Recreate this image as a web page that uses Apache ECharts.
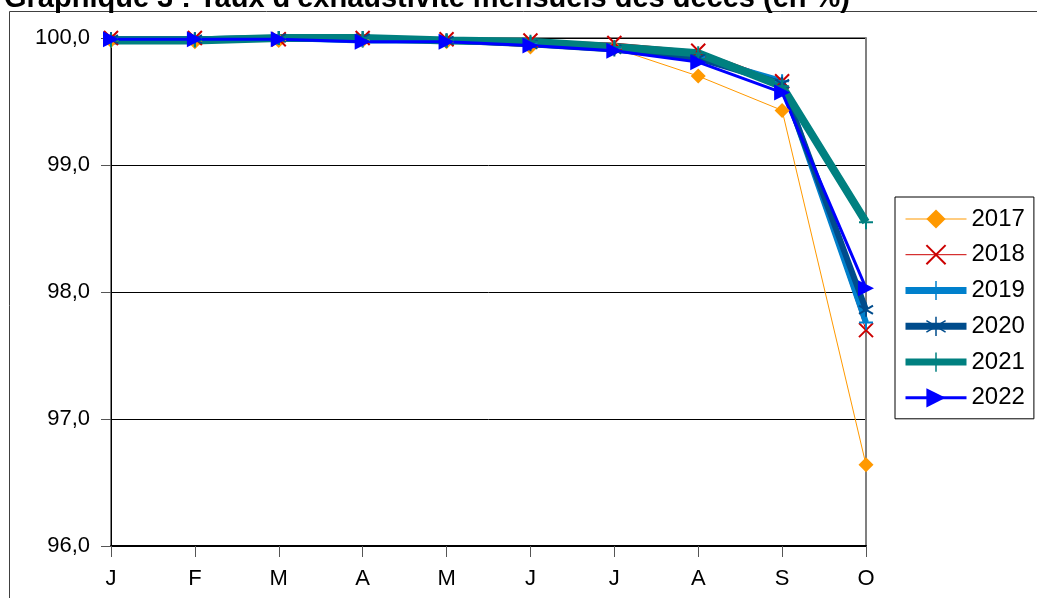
<!DOCTYPE html>
<html><head><meta charset="utf-8">
<script src="https://cdn.jsdelivr.net/npm/echarts@6/dist/echarts.min.js"></script>
<style>html,body{margin:0;padding:0;background:#fff}#c{width:1037px;height:598px}</style>
</head><body><div id="c"></div>
<script>
var months = ['J','F','M','A','M','J','J','A','S','O'];
var yTicks = [96, 97, 98, 99, 100];
var y2017 = [99.98, 99.97, 99.98, 99.98, 99.97, 99.93, 99.92, 99.70, 99.43, 96.64];
var y2018 = [100.0, 100.0, 99.99, 100.0, 99.99, 99.98, 99.96, 99.90, 99.66, 97.70];
var y2019 = [99.99, 99.99, 100.0, 99.98, 99.98, 99.96, 99.92, 99.85, 99.66, 97.76];
var y2020 = [99.99, 99.99, 100.0, 100.0, 99.98, 99.95, 99.91, 99.84, 99.64, 97.86];
var y2021 = [99.98, 99.98, 100.0, 100.0, 99.98, 99.97, 99.93, 99.88, 99.62, 98.55];
var y2022 = [99.99, 99.99, 99.99, 99.97, 99.97, 99.94, 99.90, 99.81, 99.57, 98.03];
var years = ['2017','2018','2019','2020','2021','2022'];

var F = 'Liberation Sans, Arial, sans-serif';
var X_PATH = 'path://M0,0 L10,10 M10,0 L0,10';
var PLUS_PATH = 'path://M5,0 L5,10 M0,5 L10,5';
var STAR_PATH = 'path://M5,0 L5,10 M0,2 L10,8 M10,2 L0,8';
var TRI_PATH = 'path://M0,0 L10,5 L0,10 Z';

function mk(name, data, color, width, symbol, size, stroke) {
  return {
    name: name, type: 'line', data: data, clip: false,
    symbol: symbol, symbolSize: size, showSymbol: true,
    lineStyle: {color: color, width: width},
    itemStyle: stroke ? {color: 'none', borderColor: color, borderWidth: 2} : {color: color, borderWidth: 0},
    emphasis: {disabled: true}, animation: false
  };
}

var chart = echarts.init(document.getElementById('c'));
chart.setOption({
  animation: false,
  graphic: [{type: 'rect', silent: true, z: -10,
    shape: {x: 9.5, y: 11.5, width: 1200, height: 800},
    style: {fill: '#fff', stroke: '#404040', lineWidth: 1}}],
  title: {text: "Graphique 3 : Taux d'exhaustivité mensuels des décès (en %)", left: -1, top: -21,
    textStyle: {fontFamily: F, fontSize: 29, fontWeight: 'bold', color: '#000'}},
  grid: {left: 111, right: 171, top: 38, bottom: 52, show: true, borderColor: '#000', borderWidth: 1, backgroundColor: '#fff'},
  legend: {
    orient: 'vertical', left: 895, top: 197,
    padding: [10, 9, 9, 7], itemGap: 11.6, itemWidth: 61, itemHeight: 24,
    borderColor: '#000', borderWidth: 1, backgroundColor: '#fff',
    textStyle: {fontFamily: F, fontSize: 24, color: '#000'},
    data: [
      {name: years[0], lineStyle: {width: 1}},
      {name: years[1], lineStyle: {width: 1}},
      {name: years[2], lineStyle: {width: 7}, itemStyle: {borderWidth: 1.5}},
      {name: years[3], lineStyle: {width: 7}, itemStyle: {borderWidth: 1.5}},
      {name: years[4], lineStyle: {width: 7}, itemStyle: {borderWidth: 1.5}},
      {name: years[5], lineStyle: {width: 3}}
    ]
  },
  xAxis: {
    type: 'category', data: months, boundaryGap: false,
    axisLine: {lineStyle: {color: '#000', width: 2}},
    axisTick: {show: true, length: 11, lineStyle: {color: '#555'}, alignWithLabel: true},
    axisLabel: {fontFamily: F, fontSize: 22, color: '#000', margin: 22},
    splitLine: {show: false}
  },
  yAxis: [{
    type: 'value', min: yTicks[0], max: yTicks[yTicks.length-1], interval: 1,
    axisLine: {show: true, lineStyle: {color: '#000', width: 1}},
    axisTick: {show: true, length: 10, lineStyle: {color: '#555'}},
    axisLabel: {fontFamily: F, fontSize: 22, color: '#000', margin: 21,
      formatter: function(v){ return v.toFixed(1).replace('.', ','); }},
    splitLine: {show: true, lineStyle: {color: '#000', width: 1}}
  }, {
    type: 'value', min: yTicks[0], max: yTicks[yTicks.length-1], interval: 1, position: 'right',
    axisLine: {show: true, lineStyle: {color: '#808080', width: 2}},
    axisTick: {show: false}, axisLabel: {show: false}, splitLine: {show: false}
  }],
  series: [
    mk(years[0], y2017, '#FF9900', 1, 'diamond', 15, false),
    mk(years[1], y2018, '#CC0000', 1, X_PATH, 14, true),
    mk(years[2], y2019, '#0080CC', 6, PLUS_PATH, 14, true),
    mk(years[3], y2020, '#004C8C', 6, STAR_PATH, 14, true),
    mk(years[4], y2021, '#008080', 8, PLUS_PATH, 14, true),
    mk(years[5], y2022, '#0000FF', 3, TRI_PATH, 16, false)
  ]
});
</script></body></html>
